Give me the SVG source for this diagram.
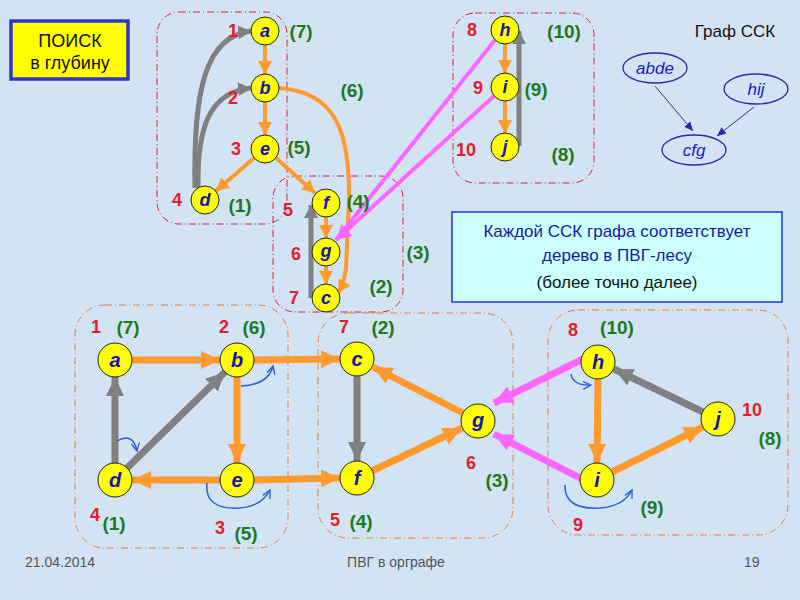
<svg xmlns="http://www.w3.org/2000/svg" width="800" height="600" viewBox="0 0 800 600">
<defs>
<style>
.nd{fill:#ffff00;stroke:#222;stroke-width:1}
.nl{font-family:"Liberation Sans",Arial,sans-serif;font-weight:bold;font-style:italic;fill:#1515a8;text-anchor:middle}
.rn{font-family:"Liberation Sans",Arial,sans-serif;font-weight:bold;fill:#e3202a;font-size:18px;text-anchor:middle}
.gn{font-family:"Liberation Sans",Arial,sans-serif;font-weight:bold;fill:#1d7a1d;font-size:19px;text-anchor:middle}
.box{fill:none;stroke-dasharray:7,3,1,3;stroke-width:1}
.or{stroke:#ff9a2e;fill:none}
.gr{stroke:#808080;fill:none}
.pk{stroke:#ff66ff;fill:none}
.bl{stroke:#2a5fd6;stroke-width:1.5;fill:none;marker-end:url(#abl)}
.ft{font-family:"Liberation Sans",Arial,sans-serif;font-size:14px;fill:#555}
.el{fill:none;stroke:#2a2aa8;stroke-width:1.3}
.et{font-family:"Liberation Sans",Arial,sans-serif;font-style:italic;font-size:17px;fill:#1a1ad0;text-anchor:middle}
</style>
<marker id="aoB" markerUnits="userSpaceOnUse" markerWidth="20" markerHeight="18" refX="19" refY="9" orient="auto"><path d="M0,0 L19,9 L0,18 z" fill="#ff9a2e"/></marker>
<marker id="agB" markerUnits="userSpaceOnUse" markerWidth="20" markerHeight="18" refX="19" refY="9" orient="auto"><path d="M0,0 L19,9 L0,18 z" fill="#808080"/></marker>
<marker id="apB" markerUnits="userSpaceOnUse" markerWidth="20" markerHeight="18" refX="19" refY="9" orient="auto"><path d="M0,0 L19,9 L0,18 z" fill="#ff66ff"/></marker>
<marker id="aoS" markerUnits="userSpaceOnUse" markerWidth="14" markerHeight="14" refX="13" refY="7" orient="auto"><path d="M0,0 L13,7 L0,14 z" fill="#ff9a2e"/></marker>
<marker id="agS" markerUnits="userSpaceOnUse" markerWidth="14" markerHeight="14" refX="13" refY="7" orient="auto"><path d="M0,0 L13,7 L0,14 z" fill="#808080"/></marker>
<marker id="apS" markerUnits="userSpaceOnUse" markerWidth="16" markerHeight="16" refX="15" refY="8" orient="auto"><path d="M0,0 L15,8 L0,16 z" fill="#ff66ff"/></marker>
<marker id="abl" markerUnits="userSpaceOnUse" markerWidth="10" markerHeight="10" refX="8" refY="5" orient="auto"><path d="M0,1 L8,5 L0,9" fill="none" stroke="#2a5fd6" stroke-width="1.3"/></marker>
<marker id="aeb" markerUnits="userSpaceOnUse" markerWidth="10" markerHeight="8" refX="9" refY="4" orient="auto"><path d="M0,0 L9,4 L0,8 z" fill="#2a2aa8"/></marker>
</defs>
<rect x="0" y="0" width="800" height="600" fill="#d2e3f4"/>

<g id="title">
<rect x="11" y="21" width="117" height="58" fill="#ffff00" stroke="#3333cc" stroke-width="3.5"/>
<text x="70" y="47" font-family="Liberation Sans, Arial, sans-serif" font-size="18" text-anchor="middle" fill="#111">ПОИСК</text>
<text x="70" y="69" font-family="Liberation Sans, Arial, sans-serif" font-size="18" text-anchor="middle" fill="#111">в глубину</text>
</g>

<g id="top-boxes">
<rect class="box" x="157" y="12" width="130" height="212" rx="22" stroke="#e02030"/>
<rect class="box" x="273" y="176" width="130" height="136" rx="22" stroke="#e02030"/>
<rect class="box" x="453" y="13" width="141" height="170" rx="22" stroke="#e02030"/>
</g>

<g id="bottom-boxes">
<rect class="box" x="75" y="305" width="213" height="243" rx="30" stroke="#e08040"/>
<rect class="box" x="318" y="313" width="195" height="225" rx="30" stroke="#e08040"/>
<rect class="box" x="548" y="310" width="240" height="225" rx="30" stroke="#e08040"/>
</g>

<g id="connectors">
<path class="gr" stroke-width="5" d="M195,188 C193,92 205,36 251,31" marker-end="url(#agS)"/>
<path class="gr" stroke-width="5" d="M198,188 C197,126 210,92 251,88" marker-end="url(#agS)"/>
<line class="gr" stroke-width="5" x1="311" y1="298" x2="311" y2="205" marker-end="url(#agS)"/>
<line class="gr" stroke-width="5" x1="519" y1="146" x2="519" y2="31" marker-end="url(#agS)"/>
<line class="or" stroke-width="4" x1="265" y1="45" x2="265" y2="74" marker-end="url(#aoS)"/>
<line class="or" stroke-width="4" x1="265" y1="102" x2="265" y2="135" marker-end="url(#aoS)"/>
<line class="or" stroke-width="4" x1="254" y1="158" x2="216" y2="191" marker-end="url(#aoS)"/>
<line class="or" stroke-width="4" x1="276" y1="158" x2="315" y2="193" marker-end="url(#aoS)"/>
<line class="or" stroke-width="4" x1="326" y1="217" x2="326" y2="238" marker-end="url(#aoS)"/>
<line class="or" stroke-width="4" x1="326" y1="266" x2="326" y2="284" marker-end="url(#aoS)"/>
<line class="or" stroke-width="4" x1="505" y1="44" x2="505" y2="73" marker-end="url(#aoS)"/>
<line class="or" stroke-width="4" x1="505" y1="101" x2="505" y2="133" marker-end="url(#aoS)"/>
<path class="or" stroke-width="4" d="M279,88 C335,92 350,130 349,200 L346,268 Q344,283 338,293" marker-end="url(#aoS)"/>
<line class="pk" stroke-width="4" x1="495" y1="40" x2="336" y2="240"/>
<line class="pk" stroke-width="4" x1="494" y1="96" x2="336" y2="240" marker-end="url(#apS)"/>
<line class="or" stroke-width="7" x1="132" y1="360" x2="220" y2="360" marker-end="url(#aoB)"/>
<line class="or" stroke-width="7" x1="254" y1="360" x2="340" y2="359" marker-end="url(#aoB)"/>
<line class="or" stroke-width="7" x1="237" y1="377" x2="237" y2="463" marker-end="url(#aoB)"/>
<line class="or" stroke-width="7" x1="220" y1="480" x2="132" y2="480" marker-end="url(#aoB)"/>
<line class="or" stroke-width="7" x1="254" y1="480" x2="340" y2="478" marker-end="url(#aoB)"/>
<line class="gr" stroke-width="7" x1="115" y1="463" x2="115" y2="377" marker-end="url(#agB)"/>
<line class="gr" stroke-width="7" x1="126" y1="469" x2="225" y2="372" marker-end="url(#agB)"/>
<line class="gr" stroke-width="7" x1="357" y1="376" x2="357" y2="461" marker-end="url(#agB)"/>
<line class="or" stroke-width="7" x1="372" y1="471" x2="462" y2="428" marker-end="url(#aoB)"/>
<line class="or" stroke-width="7" x1="463" y1="413" x2="373" y2="367" marker-end="url(#aoB)"/>
<line class="pk" stroke-width="7" x1="583" y1="359" x2="494" y2="403" marker-end="url(#apB)"/>
<line class="pk" stroke-width="7" x1="582" y1="479" x2="494" y2="434" marker-end="url(#apB)"/>
<line class="or" stroke-width="7" x1="598" y1="379" x2="597" y2="463" marker-end="url(#aoB)"/>
<line class="or" stroke-width="7" x1="612" y1="472" x2="703" y2="427" marker-end="url(#aoB)"/>
<line class="gr" stroke-width="7" x1="703" y1="412" x2="614" y2="369" marker-end="url(#agB)"/>
<path class="bl" d="M241,386 Q268,385 273,366"/>
<path class="bl" d="M117,441 Q133,432 137,451"/>
<path class="bl" d="M207,483 Q204,510 240,508 Q262,506 270,490"/>
<path class="bl" d="M571,374 Q573,386 591,385"/>
<path class="bl" d="M565,485 Q564,510 600,508 Q624,506 632,490"/>
<line x1="655" y1="86" x2="693" y2="131" stroke="#2a2aa8" stroke-width="1" marker-end="url(#aeb)"/>
<line x1="754" y1="107" x2="717" y2="136" stroke="#2a2aa8" stroke-width="1" marker-end="url(#aeb)"/>
</g>

<g id="ta"><circle class="nd" cx="265" cy="31" r="14"/><text class="nl" x="265" y="37" font-size="18">a</text></g>
<g id="tb"><circle class="nd" cx="265" cy="88" r="14"/><text class="nl" x="265" y="94" font-size="18">b</text></g>
<g id="te"><circle class="nd" cx="265" cy="149" r="14"/><text class="nl" x="265" y="155" font-size="18">e</text></g>
<g id="td"><circle class="nd" cx="205" cy="200" r="14"/><text class="nl" x="205" y="206" font-size="18">d</text></g>
<g id="tf"><circle class="nd" cx="326" cy="203" r="14"/><text class="nl" x="326" y="209" font-size="18">f</text></g>
<g id="tg"><circle class="nd" cx="326" cy="252" r="14"/><text class="nl" x="326" y="257" font-size="18">g</text></g>
<g id="tc"><circle class="nd" cx="326" cy="298" r="14"/><text class="nl" x="326" y="304" font-size="18">c</text></g>
<g id="th"><circle class="nd" cx="505" cy="30" r="14"/><text class="nl" x="505" y="36" font-size="18">h</text></g>
<g id="ti"><circle class="nd" cx="505" cy="87" r="14"/><text class="nl" x="505" y="93" font-size="18">i</text></g>
<g id="tj"><circle class="nd" cx="505" cy="147" r="14"/><text class="nl" x="505" y="153" font-size="18">j</text></g>

<g id="top-labels">
<text class="rn" x="233" y="37">1</text><text class="gn" x="301" y="38">(7)</text>
<text class="rn" x="233" y="104">2</text><text class="gn" x="352" y="97">(6)</text>
<text class="rn" x="236" y="155">3</text><text class="gn" x="299" y="154">(5)</text>
<text class="rn" x="177" y="206">4</text><text class="gn" x="240" y="212">(1)</text>
<text class="rn" x="288" y="216">5</text><text class="gn" x="358" y="208">(4)</text>
<text class="rn" x="296" y="260">6</text><text class="gn" x="418" y="259">(3)</text>
<text class="rn" x="294" y="304">7</text><text class="gn" x="381" y="293">(2)</text>
<text class="rn" x="472" y="36">8</text><text class="gn" x="564" y="38">(10)</text>
<text class="rn" x="478" y="94">9</text><text class="gn" x="536" y="96">(9)</text>
<text class="rn" x="466" y="156">10</text><text class="gn" x="563" y="161">(8)</text>
</g>

<g id="scc-title"><text x="735" y="37" font-family="Liberation Sans, Arial, sans-serif" font-size="17" text-anchor="middle" fill="#111">Граф ССК</text></g>
<g id="scc-abde"><ellipse class="el" cx="655" cy="68" rx="32" ry="15"/><text class="et" x="655" y="74">abde</text></g>
<g id="scc-hij"><ellipse class="el" cx="756" cy="89" rx="32" ry="15"/><text class="et" x="756" y="95">hij</text></g>
<g id="scc-cfg"><ellipse class="el" cx="694" cy="150" rx="32" ry="15"/><text class="et" x="694" y="156">cfg</text></g>

<g id="note">
<rect x="452" y="212" width="330" height="90" fill="#ccffff" stroke="#2233cc" stroke-width="1.5"/>
<text x="617" y="237" font-family="Liberation Sans, Arial, sans-serif" font-size="17" text-anchor="middle" fill="#1a1aa0">Каждой ССК графа соответствует</text>
<text x="617" y="261" font-family="Liberation Sans, Arial, sans-serif" font-size="17" text-anchor="middle" fill="#1a1aa0">дерево в ПВГ-лесу</text>
<text x="617" y="288" font-family="Liberation Sans, Arial, sans-serif" font-size="17" text-anchor="middle" fill="#111">(более точно далее)</text>
</g>

<g id="ba"><circle class="nd" cx="115" cy="360" r="17"/><text class="nl" x="115" y="367" font-size="20">a</text></g>
<g id="bb"><circle class="nd" cx="237" cy="360" r="17"/><text class="nl" x="237" y="367" font-size="20">b</text></g>
<g id="bd"><circle class="nd" cx="115" cy="480" r="17"/><text class="nl" x="115" y="487" font-size="20">d</text></g>
<g id="be"><circle class="nd" cx="237" cy="480" r="17"/><text class="nl" x="237" y="487" font-size="20">e</text></g>
<g id="bc"><circle class="nd" cx="357" cy="359" r="17"/><text class="nl" x="357" y="366" font-size="20">c</text></g>
<g id="bf"><circle class="nd" cx="357" cy="478" r="17"/><text class="nl" x="357" y="485" font-size="20">f</text></g>
<g id="bg"><circle class="nd" cx="478" cy="421" r="17"/><text class="nl" x="478" y="427" font-size="20">g</text></g>
<g id="bh"><circle class="nd" cx="598" cy="362" r="17"/><text class="nl" x="598" y="369" font-size="20">h</text></g>
<g id="bi"><circle class="nd" cx="597" cy="480" r="17"/><text class="nl" x="597" y="487" font-size="20">i</text></g>
<g id="bj"><circle class="nd" cx="718" cy="419" r="17"/><text class="nl" x="718" y="426" font-size="20">j</text></g>

<g id="bottom-labels">
<text class="rn" x="96" y="333">1</text><text class="gn" x="128" y="334">(7)</text>
<text class="rn" x="224" y="333">2</text><text class="gn" x="254" y="334">(6)</text>
<text class="rn" x="95" y="521">4</text><text class="gn" x="114" y="530">(1)</text>
<text class="rn" x="220" y="534">3</text><text class="gn" x="246" y="540">(5)</text>
<text class="rn" x="344" y="333">7</text><text class="gn" x="383" y="334">(2)</text>
<text class="rn" x="471" y="469">6</text><text class="gn" x="497" y="487">(3)</text>
<text class="rn" x="335" y="526">5</text><text class="gn" x="361" y="528">(4)</text>
<text class="rn" x="573" y="336">8</text><text class="gn" x="617" y="334">(10)</text>
<text class="rn" x="752" y="416">10</text><text class="gn" x="770" y="445">(8)</text>
<text class="gn" x="652" y="514">(9)</text><text class="rn" x="578" y="531">9</text>
</g>

<g id="footer">
<text class="ft" x="25" y="567">21.04.2014</text>
<text class="ft" x="396" y="567" text-anchor="middle">ПВГ в орграфе</text>
<text class="ft" x="744" y="567">19</text>
</g>
</svg>
